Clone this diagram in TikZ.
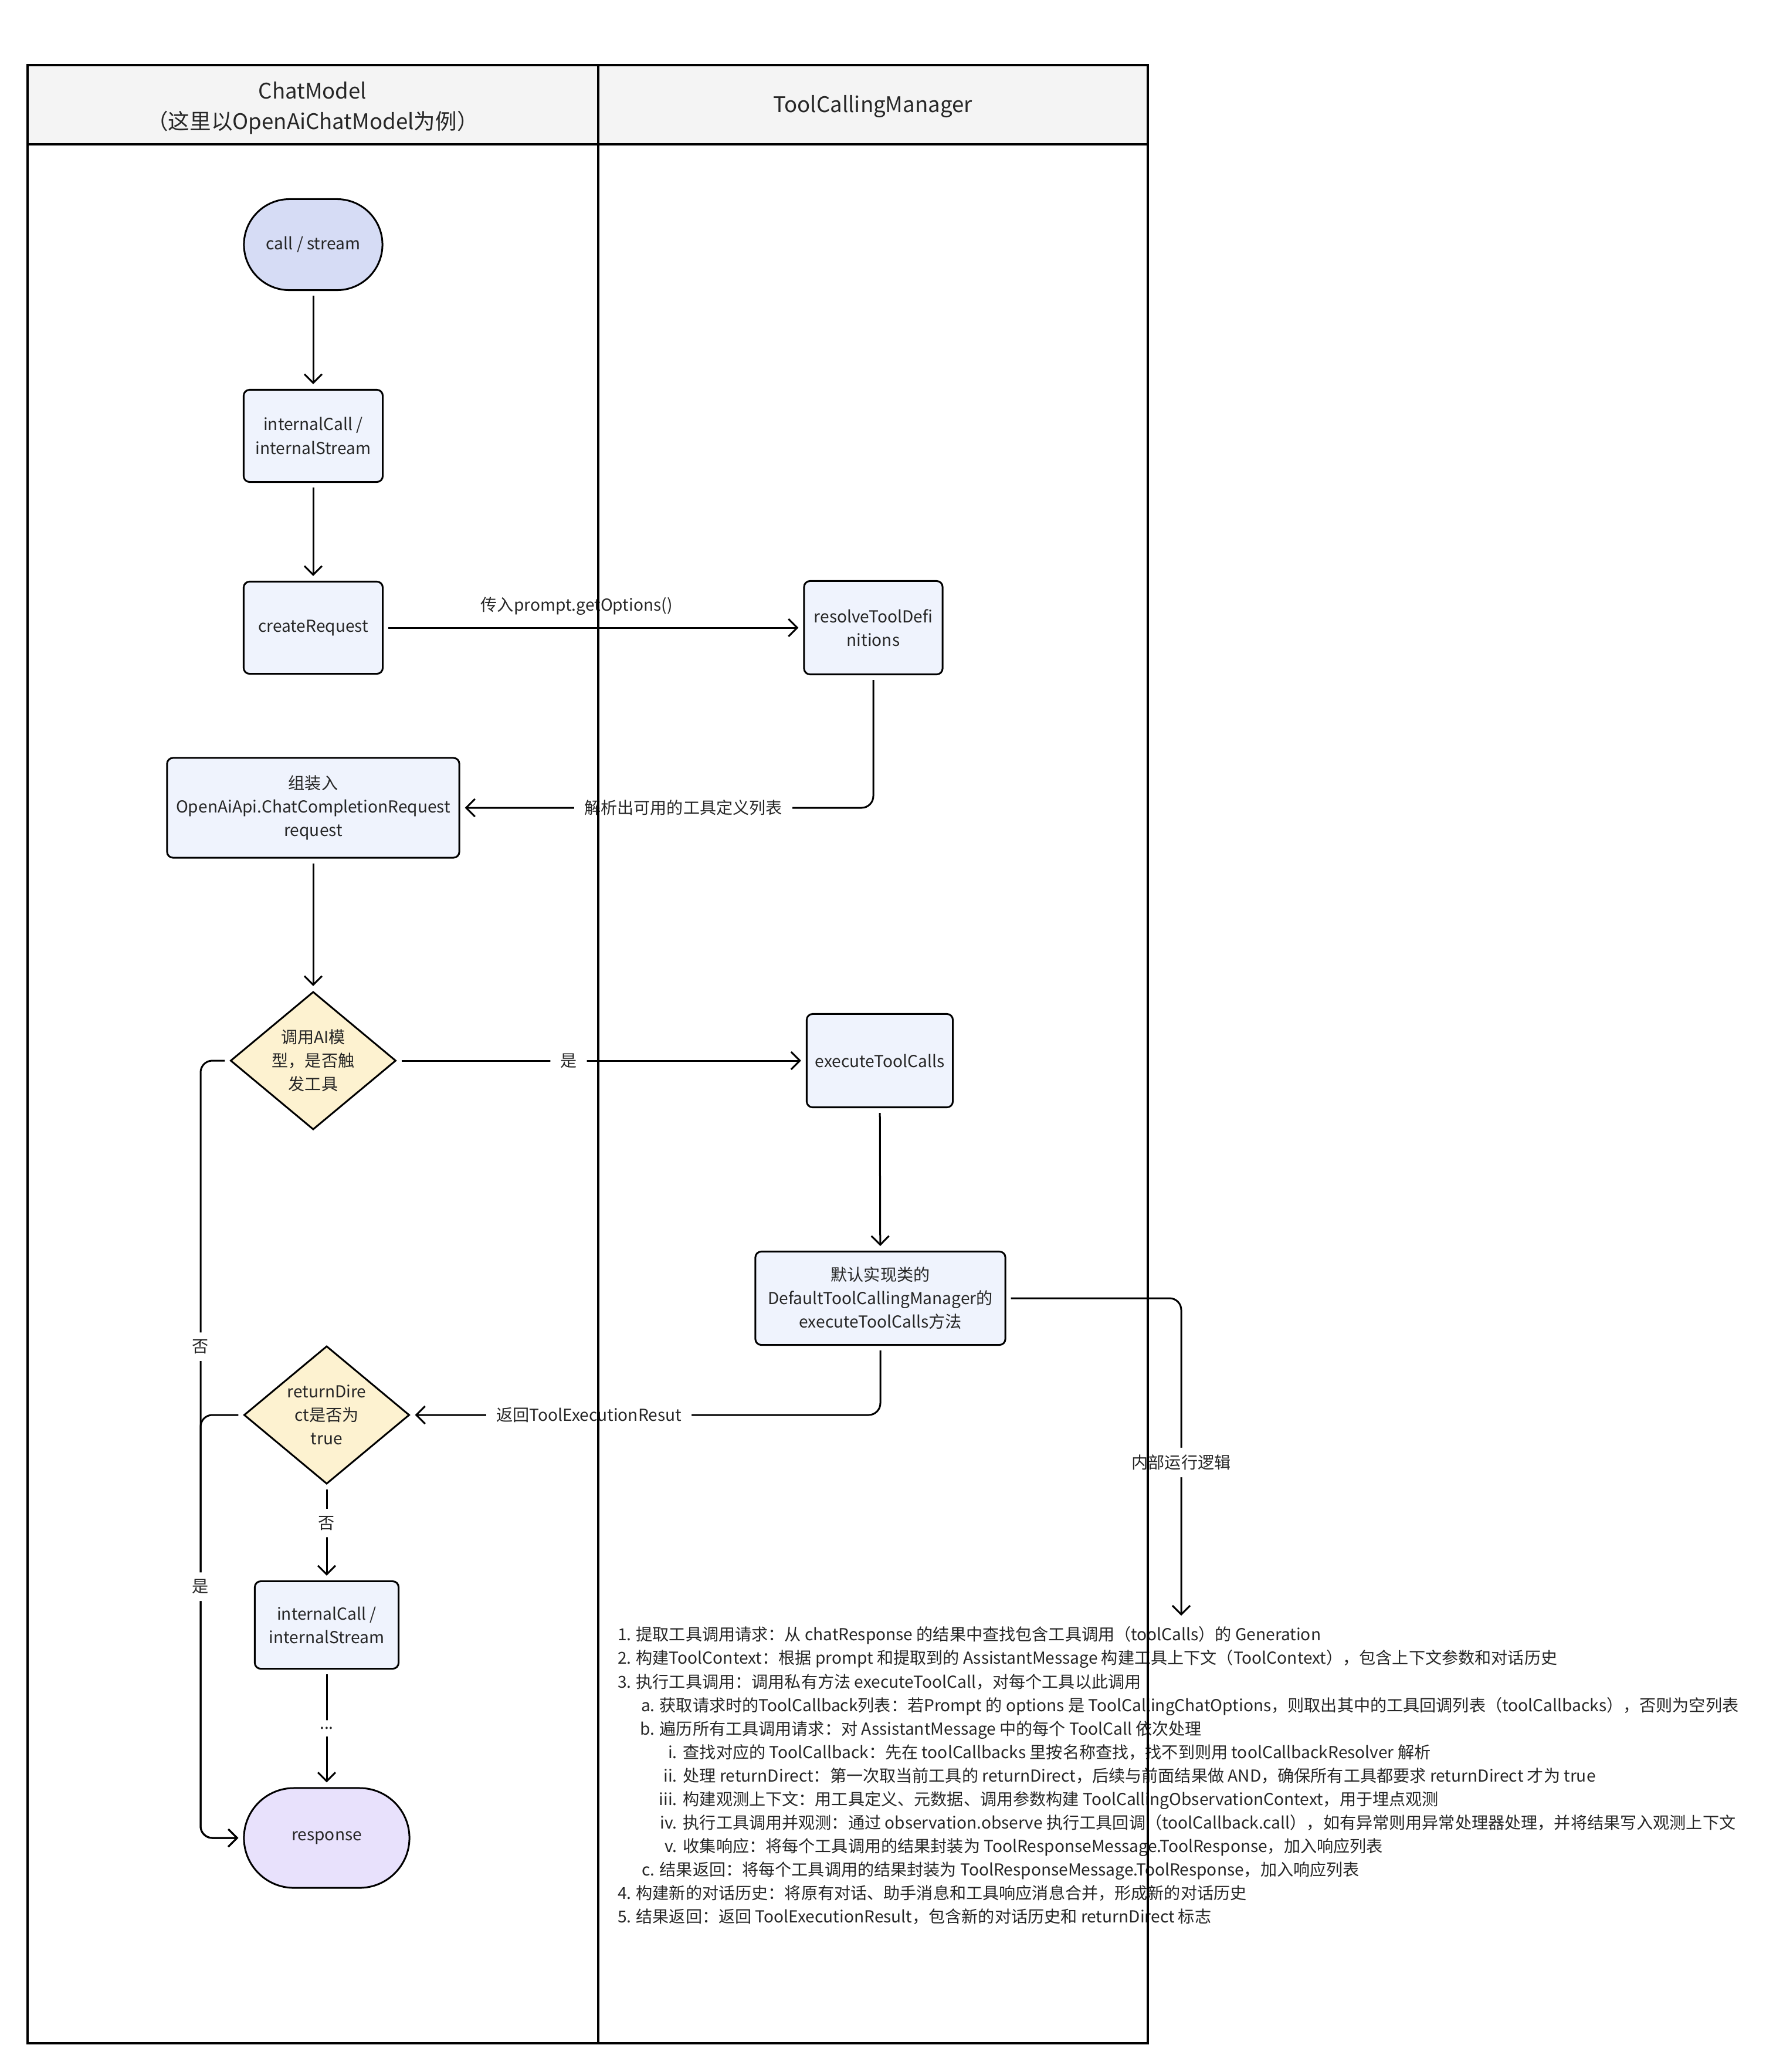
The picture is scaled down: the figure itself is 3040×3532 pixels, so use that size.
\documentclass[tikz,border=0pt]{standalone}
\usepackage{fontspec}
\setmainfont{Noto Sans CJK SC}
\usetikzlibrary{arrows.meta, shapes.geometric}

\definecolor{ink}{RGB}{38,38,38}
\definecolor{startfill}{RGB}{214,220,245}
\definecolor{boxfill}{RGB}{239,243,253}
\definecolor{decfill}{RGB}{253,242,208}
\definecolor{endfill}{RGB}{232,225,252}
\definecolor{headfill}{RGB}{244,244,244}

\newcommand{\nodefont}{\fontsize{8.0pt}{11.4pt}\selectfont}
\newcommand{\headfont}{\fontsize{10.4pt}{14.6pt}\selectfont}
% list labels, right aligned
\newcommand{\lvlone}[1]{\makebox[0.22cm][r]{#1}\hspace{0.08cm}}
\newcommand{\lvltwo}[1]{\makebox[0.62cm][r]{#1}\hspace{0.08cm}}
\newcommand{\lvlthree}[1]{\makebox[1.00cm][r]{#1}\hspace{0.10cm}}

\tikzset{
    nodebase/.style={draw=black, line width=0.03cm, text=ink, font=\nodefont, align=center, inner sep=0pt},
    termnode/.style={nodebase, rectangle, minimum width=2.36cm},
    procbox/.style={nodebase, rectangle, rounded corners=0.1cm, fill=boxfill, minimum width=2.37cm, minimum height=1.57cm},
    decision/.style={nodebase, diamond, aspect=1.2, fill=decfill, minimum width=2.82cm, minimum height=2.35cm},
    flow/.style={draw=black, line width=0.03cm, -{Straight Barb[length=0.15cm, width=0.3cm]}, shorten <=0.08cm, shorten >=0.08cm, rounded corners=0.2cm},
    flowlabel/.style={fill=white, font=\nodefont, text=ink, inner xsep=0.17cm, inner ysep=0.12cm}
}

\begin{document}
\begin{tikzpicture}[x=0.01cm, y=-0.01cm]

    % Page size
    \useasboundingbox (0,0) rectangle (3040,3532);

    % Swimlane bounds
    \def\laneL{47}
    \def\laneM{1020}
    \def\laneR{1957}
    \def\laneT{111}
    \def\laneH{246}
    \def\laneB{3483}

    % Header
    \fill[headfill] (\laneL,\laneT) rectangle (\laneR,\laneH);
    \node[font=\headfont, text=ink, align=center] (laneChat) at (533,184) {ChatModel\\（这里以OpenAiChatModel为例）};
    \node[font=\headfont, text=ink] (laneTool) at (1488,182) {ToolCallingManager};

    % ChatModel lane
    \node[termnode, fill=startfill, minimum height=1.55cm, rounded corners=0.775cm] (callStream) at (534,417) {call / stream};
    \node[procbox] (intCall) at (534,743) {internalCall /\\internalStream};
    \node[procbox] (createReq) at (534,1070) {createRequest};
    \node[procbox, minimum width=4.98cm, minimum height=1.70cm] (assembleReq) at (534,1377) {组装入\\OpenAiApi.ChatCompletionRequest\\request};
    \node[decision] (triggerTool) at (534,1808) {调用AI模\\型，是否触\\发工具};
    \node[decision] (retDirect) at (557,2412) {returnDire\\ct是否为\\true};
    \node[procbox, minimum width=2.45cm, minimum height=1.49cm] (intCallB) at (557,2770) {internalCall /\\internalStream};
    \node[termnode, fill=endfill, minimum width=2.82cm, minimum height=1.70cm, rounded corners=0.85cm] (response) at (557,3133) {response};

    % ToolCallingManager lane
    \node[procbox, minimum width=2.36cm, minimum height=1.59cm] (resolveDefs) at (1489,1070) {resolveToolDefi\\nitions};
    \node[procbox, minimum width=2.49cm, minimum height=1.59cm] (execCalls) at (1500,1808) {executeToolCalls};
    \node[procbox, minimum width=4.26cm, minimum height=1.59cm] (defaultMgr) at (1501,2213) {默认实现类的\\DefaultToolCallingManager的\\executeToolCalls方法};

    % Inner logic of executeToolCalls
    \node[anchor=north west, font=\nodefont, text=ink, align=left, inner sep=0pt] (innerLogic) at (1054,2772) {%
\lvlone{1.}提取工具调用请求：从 chatResponse 的结果中查找包含工具调用（toolCalls）的 Generation\\
\lvlone{2.}构建ToolContext：根据 prompt 和提取到的 AssistantMessage 构建工具上下文（ToolContext），包含上下文参数和对话历史\\
\lvlone{3.}执行工具调用：调用私有方法 executeToolCall，对每个工具以此调用\\
\lvltwo{a.}获取请求时的ToolCallback列表：若Prompt 的 options 是 ToolCallingChatOptions，则取出其中的工具回调列表（toolCallbacks），否则为空列表\\
\lvltwo{b.}遍历所有工具调用请求：对 AssistantMessage 中的每个 ToolCall 依次处理\\
\lvlthree{i.}查找对应的 ToolCallback：先在 toolCallbacks 里按名称查找，找不到则用 toolCallbackResolver 解析\\
\lvlthree{ii.}处理 returnDirect：第一次取当前工具的 returnDirect，后续与前面结果做 AND，确保所有工具都要求 returnDirect 才为 true\\
\lvlthree{iii.}构建观测上下文：用工具定义、元数据、调用参数构建 ToolCallingObservationContext，用于埋点观测\\
\lvlthree{iv.}执行工具调用并观测：通过 observation.observe 执行工具回调（toolCallback.call），如有异常则用异常处理器处理，并将结果写入观测上下文\\
\lvlthree{v.}收集响应：将每个工具调用的结果封装为 ToolResponseMessage.ToolResponse，加入响应列表\\
\lvltwo{c.}结果返回：将每个工具调用的结果封装为 ToolResponseMessage.ToolResponse，加入响应列表\\
\lvlone{4.}构建新的对话历史：将原有对话、助手消息和工具响应消息合并，形成新的对话历史\\
\lvlone{5.}结果返回：返回 ToolExecutionResult，包含新的对话历史和 returnDirect 标志};

    % Bend points
    \coordinate (logicIn) at (2014,2762);
    \coordinate (skipTop) at (342,1808);
    \coordinate (joinMid) at (342,2412);
    \coordinate (skipBot) at (342,3133);

    % Connectors
    \draw[flow] (callStream) -- (intCall);
    \draw[flow] (intCall) -- (createReq);
    \draw[flow] (createReq) -- node[flowlabel, pos=0.46, above=0.08cm] {传入prompt.getOptions()} (resolveDefs);
    \draw[flow] (resolveDefs.south) |- node[flowlabel, pos=0.73] {解析出可用的工具定义列表} (assembleReq.east);
    \draw[flow] (assembleReq) -- (triggerTool);
    \draw[flow] (triggerTool.east) -- node[flowlabel, pos=0.42] {是} (execCalls.west);
    \draw[flow] (execCalls) -- (defaultMgr);
    \draw[flow] (defaultMgr.east) -| node[flowlabel, pos=0.755] {内部运行逻辑} (logicIn);
    \draw[flow] (defaultMgr.south) |- node[flowlabel, pos=0.81] {返回ToolExecutionResut} (retDirect.east);
    \draw[flow] (retDirect) -- node[flowlabel, pos=0.40] {否} (intCallB);
    \draw[flow] (intCallB) -- node[flowlabel, pos=0.5] {...} (response);
    \draw[flow] (triggerTool.west) -- (skipTop) -- node[flowlabel, pos=0.368] {否} (skipBot) -- (response.west);
    \draw[flow] (retDirect.west) -- (joinMid) -- node[flowlabel, pos=0.406] {是} (skipBot) -- (response.west);

    % Swimlane lines
    \draw[line width=0.035cm] (\laneL,\laneT) rectangle (\laneR,\laneB);
    \draw[line width=0.035cm] (\laneM,\laneT) -- (\laneM,\laneB);
    \draw[line width=0.045cm] (\laneL,\laneH) -- (\laneR,\laneH);

\end{tikzpicture}
\end{document}
